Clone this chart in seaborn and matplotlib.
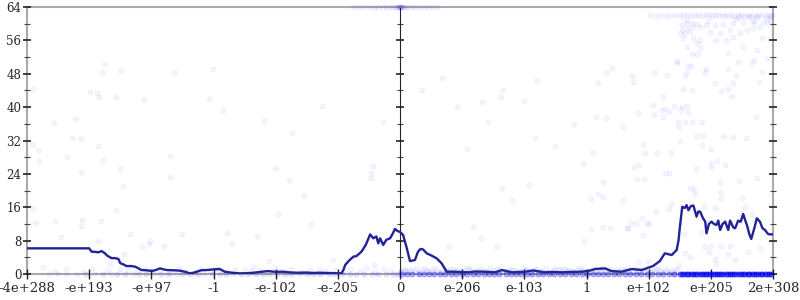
import numpy as np
import pandas as pd
import matplotlib
matplotlib.use("Agg")
import matplotlib.pyplot as plt
import seaborn as sns
from matplotlib.ticker import MultipleLocator, FixedLocator, NullFormatter

sns.set_style("white")
plt.rcParams['font.family'] = ['DejaVu Serif', 'DejaVu Sans']

# ---------------- data ----------------
tick_labels = ["-4e+288", "-e+193", "-e+97", "-1", "-e-102", "-e-205", "0",
               "e-206", "e-103", "1", "e+102", "e+205", "2e+308"]
tick_pos = [0, 1, 2, 3, 4, 5, 6, 7, 8, 9, 10, 11, 12]
y_ticks = [0, 8, 16, 24, 32, 40, 48, 56, 64]

line_x = [0.0, 1.0, 1.04, 1.1, 1.15, 1.2, 1.25, 1.29, 1.36, 1.42,
          1.47, 1.5, 1.55, 1.6, 1.68, 1.74, 1.8, 1.84, 1.92, 2.01,
          2.08, 2.14, 2.2, 2.25, 2.35, 2.46, 2.55, 2.62, 2.68, 2.73,
          2.8, 2.89, 3.0, 3.1, 3.18, 3.3, 3.43, 3.55, 3.64, 3.75,
          3.88, 4.0, 4.12, 4.22, 4.34, 4.5, 4.6, 4.71, 4.85, 4.95,
          5.06, 5.09, 5.12, 5.18, 5.25, 5.3, 5.38, 5.45, 5.52, 5.57,
          5.62, 5.65, 5.68, 5.73, 5.78, 5.84, 5.88, 5.92, 5.96, 6.0,
          6.05, 6.11, 6.16, 6.24, 6.29, 6.33, 6.37, 6.43, 6.51, 6.59,
          6.67, 6.75, 6.88, 7.0, 7.1, 7.2, 7.37, 7.53, 7.64, 7.8,
          8.01, 8.14, 8.33, 8.45, 8.6, 8.75, 8.92, 9.05, 9.14, 9.3,
          9.4, 9.57, 9.65, 9.73, 9.89, 9.99, 10.07, 10.18, 10.26, 10.37,
          10.45, 10.48, 10.5, 10.54, 10.58, 10.61, 10.64, 10.68, 10.72, 10.77,
          10.8, 10.83, 10.87, 10.91, 10.93, 10.97, 11.01, 11.05, 11.09, 11.12,
          11.15, 11.19, 11.23, 11.28, 11.31, 11.33, 11.36, 11.39, 11.44, 11.48,
          11.52, 11.55, 11.58, 11.62, 11.65, 11.7, 11.74, 11.79, 11.83, 11.87,
          11.92, 11.95, 12.0]
line_y = [6.15, 6.15, 5.35, 5.3, 5.2, 5.5, 5.0, 4.4, 3.8, 3.8,
          3.6, 2.6, 2.3, 1.9, 1.9, 1.75, 1.3, 0.95, 0.9, 0.7,
          1.0, 1.35, 1.1, 0.95, 0.9, 0.8, 0.5, 0.15, 0.3, 0.55,
          0.9, 0.95, 1.1, 1.2, 0.55, 0.3, 0.15, 0.2, 0.3, 0.5,
          0.7, 0.5, 0.55, 0.4, 0.3, 0.35, 0.25, 0.3, 0.25, 0.2,
          0.15, 1.0, 2.2, 3.2, 4.15, 4.3, 5.35, 7.0, 9.5, 8.55,
          9.0, 7.35, 8.55, 6.95, 8.2, 8.55, 9.6, 10.8, 10.3, 10.1,
          9.35, 6.15, 3.1, 3.35, 5.35, 6.0, 5.9, 4.95, 4.4, 3.75,
          2.55, 0.55, 0.55, 0.45, 0.4, 0.6, 0.55, 0.4, 0.95, 0.4,
          0.55, 0.85, 0.4, 0.5, 0.4, 0.5, 0.55, 0.8, 1.2, 1.35,
          0.7, 0.55, 0.9, 1.2, 0.95, 1.5, 1.9, 3.1, 4.95, 4.55,
          5.75, 8.0, 10.95, 16.1, 15.8, 16.5, 15.3, 16.3, 16.4, 13.75,
          15.0, 14.9, 13.5, 12.55, 9.75, 12.0, 12.55, 12.0, 11.75, 12.8,
          10.55, 12.0, 12.55, 10.55, 12.8, 12.15, 11.2, 10.95, 12.8, 12.5,
          14.4, 13.0, 11.75, 9.5, 8.4, 11.0, 13.35, 12.55, 11.0, 10.55,
          9.6, 9.5, 9.5]

# scattered samples
pts_x = [0.09, 1.25, 1.21, 1.51, 2.36, 2.99, 1.02, 1.13, 1.16, 1.43,
         1.88, 2.92, 3.15, 4.75, 0.44, 0.77, 3.82, 4.27, 5.73, 0.72,
         0.87, 0.09, 0.18, 0.19, 1.14, 0.65, 1.22, 0.87, 1.50, 2.30,
         2.30, 1.54, 0.10, 1.43, 0.13, 0.45, 0.88, 0.87, 1.19, 0.54,
         1.15, 1.66, 1.56, 1.34, 0.26, 1.98, 1.97, 1.85, 2.20, 2.50,
         3.21, 3.30, 3.70, 3.64, 3.90, 4.00, 4.21, 4.45, 4.03, 4.57,
         4.93, 5.56, 5.53, 5.54, 5.58,
         6.35, 6.67, 8.21, 6.92, 7.32, 7.62, 7.65, 7.99, 7.42, 8.80,
         9.16, 9.31, 9.19, 9.31, 9.41, 9.58, 9.73, 9.74, 9.83, 10.07,
         10.08, 10.09, 10.23, 10.21, 10.26, 10.23, 10.29, 10.32, 10.41, 10.45,
         10.45, 10.51, 10.53, 10.58, 10.61, 10.63, 10.68, 10.56, 10.70, 10.62,
         10.64, 10.47, 10.49, 10.58, 10.70, 10.85, 10.69, 10.77, 10.90, 10.92,
         11.07, 11.16, 11.28, 11.34, 11.27, 11.28, 11.40, 11.35, 11.43, 11.52,
         11.67, 11.69, 11.75, 11.83, 11.78, 11.91, 11.73, 11.82, 10.77, 10.88,
         11.19, 11.36, 11.57, 8.17, 7.08, 8.50, 9.11, 8.94, 7.64, 8.07,
         7.80, 9.27, 9.18, 9.27, 9.07, 9.58, 9.91, 9.94, 10.13, 9.77,
         9.85, 9.82, 9.93, 10.27, 10.33, 10.36, 10.51, 10.85, 11.00, 11.10,
         11.00, 11.23, 11.01, 10.76, 11.46, 11.74, 11.14, 10.66, 10.73, 10.74,
         11.15, 11.16, 11.50, 10.36, 10.33, 10.89, 11.06, 11.55, 11.67, 11.28,
         10.12, 9.89, 9.71, 9.79, 9.67, 9.98, 10.00, 9.91, 10.57, 10.84,
         7.17, 7.30, 7.56, 6.79, 8.96, 9.07, 9.27, 9.38, 9.65, 10.91,
         11.01, 11.16, 11.31, 10.97, 11.59, 10.58, 10.66, 10.48, 11.07, 11.08,
         9.83, 9.99, 11.28, 11.39, 11.79]
pts_y = [44.3, 50.3, 48.4, 48.7, 48.5, 49.1, 43.6, 43.4, 42.4, 42.5,
         41.7, 41.9, 39.2, 40.3, 36.3, 37.1, 36.6, 33.7, 36.5, 32.7,
         32.3, 31.1, 29.7, 27.1, 30.8, 28.1, 27.3, 24.5, 25.2, 28.4,
         23.3, 21.2, 15.9, 15.3, 12.3, 12.7, 12.9, 11.5, 12.7, 8.9,
         8.0, 9.6, 4.8, 2.4, 1.7, 8.0, 7.3, 6.4, 6.8, 9.6,
         9.8, 7.3, 9.0, 1.6, 3.2, 25.5, 22.5, 18.7, 14.5, 11.9,
         3.4, 25.9, 24.1, 22.9, 2.2,
         44.1, 47.1, 46.5, 40.0, 41.2, 42.5, 44.1, 41.4, 36.4, 35.9,
         37.6, 37.5, 45.9, 48.3, 49.3, 35.2, 47.5, 46.1, 38.5, 40.5,
         38.1, 48.5, 42.4, 39.3, 39.5, 37.6, 47.6, 38.8, 40.3, 51.1,
         50.5, 39.3, 40.0, 47.5, 48.5, 49.9, 49.9, 44.3, 44.1, 40.3,
         38.8, 36.5, 35.3, 36.4, 36.4, 36.4, 52.7, 52.7, 48.3, 49.1,
         45.9, 43.9, 44.3, 42.7, 53.0, 49.1, 47.4, 45.9, 50.7, 54.5,
         50.5, 51.3, 53.7, 48.3, 46.1, 51.8, 37.6, 56.5, 33.1, 33.1,
         33.1, 32.9, 32.6, 32.5, 30.0, 30.7, 29.3, 26.3, 20.5, 21.3,
         17.7, 22.1, 19.2, 18.5, 18.0, 17.7, 31.1, 28.9, 28.9, 25.6,
         26.1, 22.8, 22.8, 24.1, 24.1, 28.9, 31.9, 30.9, 30.0, 27.1,
         26.7, 26.1, 25.7, 25.2, 22.4, 22.9, 22.0, 20.7, 20.4, 19.2,
         19.6, 18.3, 18.3, 16.7, 15.7, 16.4, 15.9, 16.1, 14.4, 12.2,
         15.1, 13.5, 12.2, 12.2, 11.0, 12.2, 11.9, 9.3, 9.5, 10.0,
         11.2, 8.7, 6.5, 6.4, 7.9, 10.8, 11.3, 11.0, 11.1, 6.4,
         6.8, 6.8, 6.7, 5.3, 5.3, 5.1, 4.1, 2.2, 3.6, 2.3,
         2.9, 3.2, 4.7, 3.4, 6.2]

# dense cluster near the top right
cluster_x = [10.02, 10.12, 10.2, 10.28, 10.35, 10.42, 10.5, 10.56, 10.62, 10.68,
             10.74, 10.8, 10.86, 10.92, 10.97, 11.02, 11.07, 11.12, 11.18, 11.23,
             11.28, 11.33, 11.38, 11.43, 11.48, 11.53, 11.58, 11.63, 11.68, 11.73,
             11.78, 11.83, 11.88, 11.93, 11.98, 11.45, 11.62, 11.75, 11.9, 11.97,
             10.53, 10.61, 10.69, 10.77, 10.56, 10.64, 10.72, 10.50, 10.58, 10.66,
             10.83, 10.93, 11.07, 11.20, 11.36, 11.52, 11.68, 11.84, 11.95, 10.56,
             10.72, 10.83, 10.77, 11.09, 11.25, 11.36, 11.47, 11.58, 11.68, 11.79,
             11.90, 10.99, 11.15, 11.31, 10.61, 10.83, 10.6, 10.95, 11.4, 11.7]
cluster_y = [62.0, 61.9, 62.1, 61.9, 62.0, 62.1, 61.9, 62.0, 62.1, 61.9,
             62.0, 62.0, 61.8, 62.0, 62.1, 61.9, 62.0, 62.1, 62.0, 61.8,
             62.0, 62.1, 61.9, 62.0, 62.2, 61.9, 62.0, 61.8, 62.1, 61.9,
             62.0, 62.2, 61.9, 62.1, 62.0, 61.6, 61.5, 61.7, 61.4, 61.8,
             59.7, 60.1, 60.1, 59.9, 58.5, 58.9, 59.3, 57.7, 57.7, 58.1,
             59.3, 59.7, 59.7, 59.9, 60.1, 60.5, 60.7, 60.5, 60.9, 56.5,
             56.5, 56.1, 55.3, 56.1, 56.1, 56.9, 57.7, 58.5, 58.9, 59.3,
             60.1, 58.1, 57.7, 58.5, 54.5, 54.1, 61.0, 60.6, 61.1, 60.3]

# samples sitting on the top edge (value 64) around zero
top_x = [5.25, 5.32, 5.4, 5.5, 5.58, 5.65, 5.72, 5.78, 5.84, 5.88,
         5.92, 5.95, 5.97, 5.99, 6.0, 6.0, 6.0, 6.0, 6.01, 6.03,
         6.05, 6.08, 6.12, 6.17, 6.22, 6.3, 6.38, 6.45, 6.52, 6.6]
top_y = [63.9, 64.0, 63.9, 64.0, 63.8, 64.0, 63.9, 64.0, 63.9, 64.0,
         64.0, 63.9, 64.0, 64.0, 64.0, 64.0, 64.0, 64.0, 64.0, 63.9,
         64.0, 64.0, 63.9, 64.0, 63.9, 64.0, 63.8, 64.0, 63.9, 64.0]

# low band (0 .. 1.5)
band_x = [0.45, 0.62, 0.9, 1.05, 1.3, 1.5, 1.62, 1.75, 1.9, 2.0,
          2.12, 2.3, 2.45, 2.55, 2.7, 2.8, 2.95, 3.05, 3.2, 3.35,
          3.5, 3.6, 3.75, 3.9, 4.0, 4.1, 4.25, 4.4, 4.55, 4.7,
          4.8, 4.95, 5.1, 5.2, 5.35, 5.45, 5.6, 5.75, 5.85,
          6.05, 6.1, 6.18, 6.25, 6.32, 6.4, 6.47, 6.55, 6.62, 6.7,
          6.78, 6.85, 6.92, 7.0, 7.07, 7.15, 7.22, 7.3, 7.38, 7.45,
          7.52, 7.6, 7.68, 7.75, 7.82, 7.9, 7.98, 8.05, 8.12, 8.2,
          8.28, 8.35, 8.42, 8.5, 8.58, 8.65, 8.72, 8.8, 8.88, 8.95,
          9.02, 9.1, 9.18, 9.25, 9.32, 9.4, 9.48, 9.55, 9.62, 9.7,
          9.78, 9.85, 9.92, 10.0, 10.08, 10.15, 10.22, 10.3, 10.38, 10.45,
          6.02, 6.14, 6.28, 6.43, 6.58, 6.74, 6.88, 7.03, 7.19, 7.34,
          7.49, 7.64, 7.8, 7.95, 8.1, 8.25, 8.4, 8.55, 8.7, 8.85,
          9.0, 9.15, 9.3, 9.45, 9.6, 9.75, 9.9, 10.05, 10.2, 10.35,
          6.08, 6.22, 6.36, 6.51, 6.66, 6.81, 6.96, 7.11, 7.26, 7.41,
          7.56, 7.72, 7.87, 8.02, 8.17, 8.32, 8.47, 8.62, 8.77, 8.92,
          9.07, 9.22, 9.37, 9.52, 9.67, 9.82, 9.97, 10.12, 10.27, 10.42]
band_y = [0.8, 1.2, 0.5, 1.1, 0.7, 1.3, 0.9, 0.4, 1.2, 0.6,
          1.0, 0.3, 1.4, 0.8, 0.5, 1.1, 0.7, 1.3, 0.4, 0.9,
          1.2, 0.6, 1.0, 0.3, 1.4, 0.8, 1.1, 0.5, 0.9, 1.3,
          0.6, 1.0, 0.4, 1.2, 0.7, 1.4, 0.5, 1.1, 0.8,
          1.3, 0.6, 1.0, 1.4, 0.5, 1.2, 0.8, 1.5, 0.4, 1.1,
          0.7, 1.3, 0.9, 0.5, 1.4, 1.0, 0.6, 1.2, 0.8, 1.5,
          0.4, 1.1, 0.7, 1.3, 0.9, 0.5, 1.4, 1.0, 0.6, 1.2,
          0.8, 1.5, 0.4, 1.1, 0.7, 1.3, 0.9, 0.5, 1.4, 1.0,
          0.6, 1.2, 0.8, 1.5, 0.4, 1.1, 0.7, 1.3, 0.9, 0.5,
          1.4, 1.0, 0.6, 1.2, 0.8, 1.5, 0.4, 1.1, 0.7, 1.3,
          0.5, 0.9, 0.3, 0.7, 1.0, 0.4, 0.8, 1.1, 0.3, 0.6,
          0.9, 0.4, 1.0, 0.7, 0.3, 0.8, 0.5, 1.1, 0.6, 0.9,
          0.3, 0.7, 1.0, 0.5, 0.8, 0.4, 1.1, 0.6, 0.9, 0.5,
          1.0, 0.6, 1.2, 0.8, 0.5, 1.1, 0.7, 1.3, 0.9, 0.4,
          1.2, 0.8, 0.6, 1.0, 1.3, 0.5, 0.9, 1.2, 0.7, 1.0,
          0.5, 1.3, 0.8, 0.6, 1.1, 0.9, 0.4, 1.2, 0.7, 1.0]

# samples exactly at 0 (position, how many)
zero_x = [0.35, 0.5, 0.62, 0.8, 0.95, 1.1, 1.22, 1.35, 1.45, 1.58,
          1.7, 1.8, 1.92, 2.05, 2.15, 2.27, 2.4, 2.5, 2.62, 2.75,
          2.85, 2.97, 3.1, 3.2, 3.32, 3.45, 3.55, 3.68, 3.8, 3.9,
          4.02, 4.15, 4.25, 4.37, 4.5, 4.6, 4.72, 4.85, 4.95, 5.07,
          5.2, 5.3, 5.42, 5.55, 5.65, 5.77, 5.88, 5.97,
          6.03, 6.12, 6.2, 6.3, 6.38, 6.47, 6.55, 6.65, 6.73, 6.82,
          6.9, 7.0, 7.08, 7.17, 7.25, 7.35, 7.43, 7.52, 7.6, 7.7,
          7.78, 7.87, 7.95, 8.05, 8.13, 8.22, 8.3, 8.4, 8.48, 8.57,
          8.65, 8.75, 8.83, 8.92, 9.0, 9.1, 9.18, 9.27, 9.35, 9.45,
          9.53, 9.62, 9.7, 9.8, 9.88, 9.97, 10.05, 10.15, 10.23, 10.32,
          10.4, 10.5, 10.54, 10.57, 10.61, 10.64, 10.68, 10.71, 10.75, 10.78,
          10.82, 10.85, 10.89, 10.92, 10.96, 10.99, 11.03, 11.06, 11.1, 11.13,
          11.17, 11.2, 11.24, 11.27, 11.31, 11.34, 11.38, 11.41, 11.45, 11.48,
          11.52, 11.55, 11.59, 11.62, 11.66, 11.69, 11.73, 11.76, 11.8, 11.83,
          11.87, 11.9, 11.94, 11.97]
zero_n = [1, 1, 1, 1, 2, 1, 2, 1, 2, 2,
          1, 2, 2, 1, 2, 2, 1, 2, 2, 2,
          1, 2, 2, 2, 1, 2, 2, 2, 2, 1,
          2, 2, 2, 1, 2, 2, 2, 2, 2, 2,
          2, 2, 2, 2, 2, 2, 2, 3,
          7, 7, 7, 7, 7, 7, 7, 7, 7, 7,
          7, 7, 7, 7, 7, 7, 7, 7, 7, 7,
          7, 7, 7, 7, 7, 7, 7, 7, 7, 7,
          7, 7, 7, 7, 7, 7, 7, 7, 7, 7,
          7, 7, 7, 7, 7, 7, 7, 7, 7, 7,
          10, 12, 12, 12, 12, 12, 12, 12, 12, 12,
          12, 12, 12, 12, 12, 12, 12, 12, 12, 12,
          12, 12, 12, 12, 12, 12, 12, 12, 12, 12,
          12, 12, 12, 12, 12, 12, 12, 12, 12, 12,
          12, 12, 12, 12]

# ---------------- figure ----------------
samples = pd.DataFrame({
    "x": np.concatenate([pts_x, cluster_x, top_x, band_x, np.repeat(zero_x, zero_n)]),
    "y": np.concatenate([pts_y, cluster_y, top_y, band_y, np.zeros(int(np.sum(zero_n)))]),
})
trend = pd.DataFrame({"x": line_x, "y": line_y})

fig = plt.figure(figsize=(8, 3), dpi=100)
ax = fig.add_axes([27 / 800, 26 / 300, 746 / 800, 267 / 300])

spine_col = "#aaaaaa"
for s in ax.spines.values():
    s.set_color(spine_col)
    s.set_linewidth(1.5)
    s.set_zorder(0.5)

sns.scatterplot(data=samples, x="x", y="y", ax=ax, color="#0000ff", alpha=0.045,
                s=13, edgecolor="#0000ff", linewidth=0.7, clip_on=False, zorder=2)
sns.lineplot(data=trend, x="x", y="y", ax=ax, sort=False, estimator=None,
             color="#22229a", linewidth=1.7, zorder=3)

ax.set_xlim(0, 12)
ax.set_ylim(0, 64)
ax.set_xlabel("")
ax.set_ylabel("")

ax.xaxis.set_major_locator(FixedLocator(tick_pos))
ax.set_xticklabels(tick_labels)
ax.yaxis.set_major_locator(FixedLocator(y_ticks))
ax.yaxis.set_minor_locator(MultipleLocator(4))

ax.tick_params(axis="x", which="major", direction="inout", length=7, width=1,
               color="#222222", labelsize=9.5, pad=2, bottom=True, top=False)
ax.tick_params(axis="y", which="major", direction="inout", length=6, width=1.2,
               color="#222222", labelsize=8.5, pad=1, left=True, right=True)
ax.tick_params(axis="y", which="minor", direction="inout", length=4, width=0.8,
               color="#444444", left=True, right=True)

# centre axis at x = 0 (position 6)
sec = ax.secondary_yaxis(0.5)
sec.spines["left"].set_color(spine_col)
sec.spines["left"].set_linewidth(1.5)
sec.yaxis.set_major_locator(FixedLocator(y_ticks))
sec.yaxis.set_minor_locator(MultipleLocator(4))
sec.yaxis.set_major_formatter(NullFormatter())
sec.tick_params(axis="y", which="major", direction="inout", length=6, width=1.2,
                color="#222222", labelleft=False, labelright=False)
sec.tick_params(axis="y", which="minor", direction="inout", length=4, width=0.8,
                color="#444444")

fig.savefig("out.png", dpi=100)
